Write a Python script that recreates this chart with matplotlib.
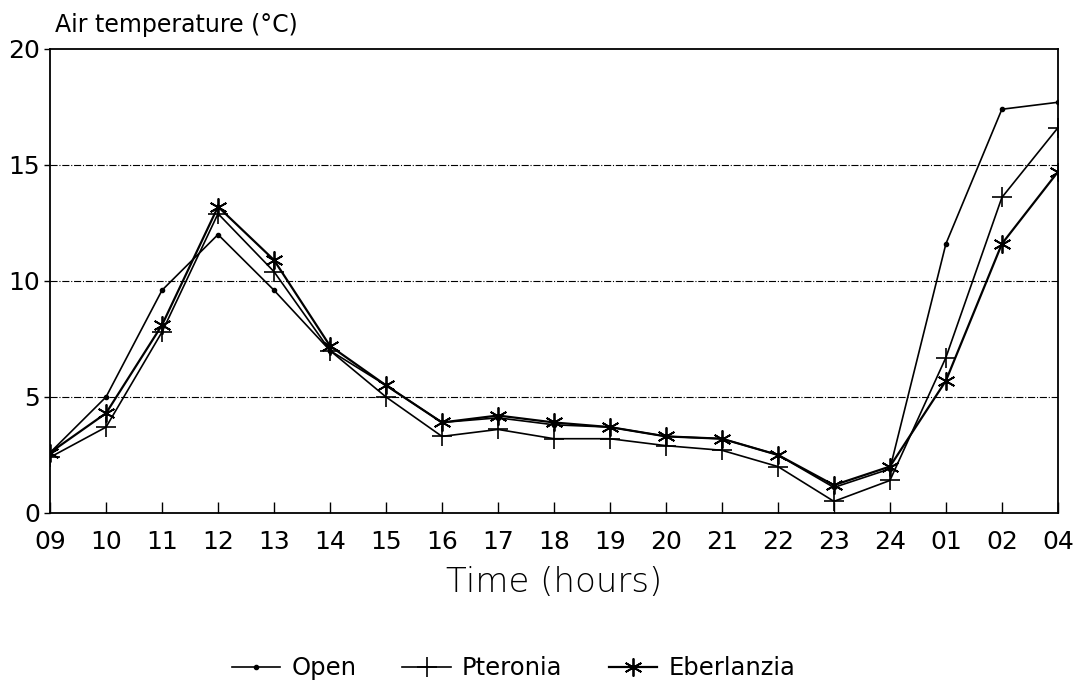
import numpy as np
import matplotlib.pyplot as plt

# hour labels along the x axis
hours = ['09', '10', '11', '12', '13', '14', '15', '16', '17', '18',
         '19', '20', '21', '22', '23', '24', '01', '02', '04']

# air temperature (deg C)
open_t = [2.6, 5.0, 9.6, 12.0, 9.6, 7.0, 5.5, 3.9, 4.1, 3.8,
          3.7, 3.3, 3.2, 2.5, 1.1, 1.9, 11.6, 17.4, 17.7]
pteronia = [2.4, 3.7, 7.8, 12.9, 10.4, 7.0, 5.0, 3.3, 3.6, 3.2,
            3.2, 2.9, 2.7, 2.0, 0.5, 1.4, 6.7, 13.6, 16.6]
eberlanzia = [2.6, 4.3, 8.1, 13.2, 10.9, 7.2, 5.5, 3.9, 4.2, 3.9,
              3.7, 3.3, 3.2, 2.5, 1.2, 2.0, 5.7, 11.6, 14.7]

plt.rcParams['font.family'] = ['DejaVu Sans']

fig = plt.figure(figsize=(10.74, 6.89), dpi=100)
ax = fig.add_axes([0.0466, 0.2555, 0.9384, 0.6735])

x = np.arange(len(hours))
ax.plot(x, open_t, color='black', lw=1.2, marker='o', ms=3, label='Open')
ax.plot(x, pteronia, color='black', lw=1.2, marker='+', ms=14, mew=1.2, label='Pteronia')
ax.plot(x, eberlanzia, color='black', lw=1.6, marker=(6, 2, 0), ms=13, mew=1.3, label='Eberlanzia')

ax.set_xlim(0, len(hours) - 1)
ax.set_ylim(0, 20)
ax.set_xticks(x)
ax.set_xticklabels(hours, fontsize=18)
ax.set_yticks([0, 5, 10, 15, 20])
ax.set_yticklabels(['0', '5', '10', '15', '20'], fontsize=18)
ax.tick_params(axis='x', direction='in', length=8, width=1, pad=12)
ax.tick_params(axis='y', direction='out', length=4, width=1, pad=3)

for v in [5, 10, 15]:
    ax.axhline(v, color='black', lw=0.8, ls='-.', zorder=0)

for s in ax.spines.values():
    s.set_linewidth(1.3)

ax.set_xlabel('Time (hours)', fontsize=24.5, fontweight='light', labelpad=9)
ax.text(0.005, 1.025, 'Air temperature (\u00b0C)', transform=ax.transAxes,
        fontsize=17, ha='left', va='bottom')

fig.legend(loc='center', bbox_to_anchor=(0.478, 0.03), ncol=3, frameon=False,
           fontsize=17.5, handlelength=2.0, columnspacing=1.9, handletextpad=0.45)

fig.savefig('out.png', dpi=100)
